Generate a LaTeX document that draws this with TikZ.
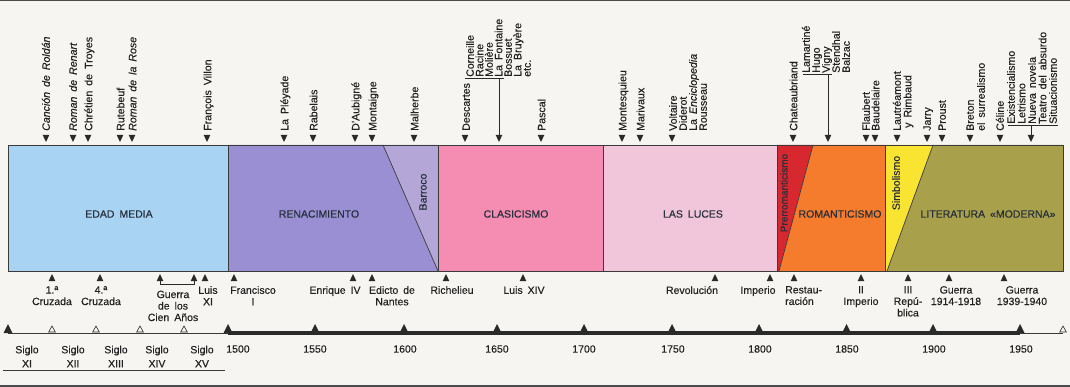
\documentclass[tikz,border=0pt]{standalone}
\usepackage{fontspec}
\setmainfont{Liberation Sans}[WordSpace=1.7, FakeBold=0.35]
\definecolor{bg}{HTML}{F6F5F1}
\definecolor{frame}{HTML}{4A4A4A}
\definecolor{txt}{HTML}{222222}
\definecolor{bandtxt}{HTML}{26303C}
\definecolor{linec}{HTML}{3A3A3A}
\definecolor{tric}{HTML}{2A2A2A}
\definecolor{cmedia}{HTML}{A8D3F3}
\definecolor{crenac}{HTML}{998FD2}
\definecolor{cbarroco}{HTML}{B4A7D8}
\definecolor{cclas}{HTML}{F48DB1}
\definecolor{cluces}{HTML}{F2C6DA}
\definecolor{cprerr}{HTML}{D72830}
\definecolor{croman}{HTML}{F47C2C}
\definecolor{csimb}{HTML}{F9E432}
\definecolor{cmod}{HTML}{A9A04B}
\tikzset{
  pics/dtri/.style={code={\fill[tric] (0,0) -- (-3.3,-7) -- (3.3,-7) -- cycle;}},
  pics/utri/.style={code={\fill[tric] (0,0) -- (-3.3,7) -- (3.3,7) -- cycle;}},
  pics/ytri/.style={code={\fill[tric] (0,0) -- (-4.5,9) -- (4.5,9) -- cycle;}},
  pics/htri/.style={code={\draw[tric, line width=0.6pt, fill=bg] (0,0) -- (-3.3,6) -- (3.3,6) -- cycle;}},
}
\begin{document}
\begin{tikzpicture}[x=1pt,y=-1pt,
  bandline/.style={draw=linec, line width=0.7pt},
  bandlab/.style={font=\fontsize{10.5}{12}\selectfont, text=bandtxt, inner sep=0pt},
  vlab/.style={rotate=90, font=\fontsize{10.5}{12}\selectfont, text=bandtxt, inner sep=0pt},
  toplab/.style={rotate=90, anchor=west, inner sep=0pt, text height=7.5pt, text depth=2pt, font=\fontsize{10.6}{10}\selectfont, text=txt},
  botlab/.style={anchor=north, inner sep=0pt, align=center, font=\fontsize{10.5}{11.5}\selectfont, text=txt},
  yearlab/.style={inner sep=0pt, font=\fontsize{10.5}{12}\selectfont, text=txt},
  siglolab/.style={anchor=north, inner sep=0pt, align=center, font=\fontsize{10.5}{14}\selectfont, text=txt},
  conn/.style={draw=tric, line width=0.6pt},
  thinl/.style={draw=linec, line width=0.8pt},
  thickl/.style={draw=tric, line width=3.5pt}
]
\useasboundingbox (0,0) rectangle (1070,387);
\fill[bg] (0,0) rectangle (1070,387);
\fill[frame] (0,0) rectangle (1070,1.5);
\fill[frame] (0,384.5) rectangle (1070,387);

% ---------- band ----------
\fill[cmedia] (8,145) rectangle (228,271);
\fill[crenac] (228,145) -- (383,145) -- (438,271) -- (228,271) -- cycle;
\fill[cbarroco] (383,145) -- (438,145) -- (438,271) -- cycle;
\fill[cclas] (438,145) rectangle (603,271);
\fill[cluces] (603,145) rectangle (777,271);
\fill[cprerr] (777,145) -- (813,145) -- (779,271) -- (777,271) -- cycle;
\fill[croman] (813,145) -- (885,145) -- (885,271) -- (779,271) -- cycle;
\fill[csimb] (885,145) -- (933,145) -- (887,271) -- (885,271) -- cycle;
\fill[cmod] (933,145) -- (1063,145) -- (1063,271) -- (887,271) -- cycle;
\draw[bandline] (8,145) rectangle (1063,271);
\draw[bandline] (228,145) -- (228,271);
\draw[bandline] (383,145) -- (438,271);
\draw[bandline] (438,145) -- (438,271);
\draw[bandline] (603,145) -- (603,271);
\draw[bandline] (777,145) -- (777,271);
\draw[bandline] (813,145) -- (779,271);
\draw[bandline] (885,145) -- (885,271);
\draw[bandline] (933,145) -- (887,271);

\node[bandlab] (edad) at (119,214) {EDAD MEDIA};
\node[bandlab] (renac) at (319,214) {RENACIMIENTO};
\node[vlab] (barroco) at (423,192) {Barroco};
\node[bandlab] (clas) at (516,214) {CLASICISMO};
\node[bandlab] (luces) at (693,214) {LAS LUCES};
\node[vlab, font=\fontsize{10}{12}\selectfont] (prerr) at (784,193) {Prerromanticismo};
\node[bandlab] (roman) at (840,214) {ROMANTICISMO};
\node[vlab] (simb) at (896,183) {Simbolismo};
\node[bandlab] (moderna) at (988,214) {LITERATURA «MODERNA»};

% ---------- top labels ----------
\foreach \x in {46,73,88,120,132,207,284,313,355,372,414,465,541,622,640,672,793,866,875,897,927,942,970,1000}
  \pic at (\x,142) {dtri};
\node[toplab] (t1) at (47,131) {\itshape Canción de Roldán};
\node[toplab] (t2) at (74,131) {\itshape Roman de Renart};
\node[toplab] (t3) at (89.5,131) {Chrétien de Troyes};
\node[toplab] (t4) at (121.5,131) {Rutebeuf};
\node[toplab] (t5) at (133.5,131) {\itshape Roman de la Rose};
\node[toplab] (t6) at (208.5,131) {François Villon};
\node[toplab] (t7) at (285.5,131) {La Pléyade};
\node[toplab] (t8) at (314.5,131) {Rabelais};
\node[toplab] (t9) at (356.5,131) {D’Aubigné};
\node[toplab] (t10) at (373.5,131) {Montaigne};
\node[toplab] (t11) at (415.5,131) {Malherbe};
\node[toplab] (t12) at (467,131) {Descartes};
% Corneille group
\node[toplab] (g1a) at (471,77) {Corneille};
\node[toplab] (g1b) at (480.5,77) {Racine};
\node[toplab] (g1c) at (490,77) {Molière};
\node[toplab] (g1d) at (499.5,77) {La Fontaine};
\node[toplab] (g1e) at (509,77) {Bossuet};
\node[toplab] (g1f) at (518.5,77) {La Bruyère};
\node[toplab] (g1g) at (528,77) {etc.};
\coordinate (g1l) at (465,78);
\coordinate (g1m) at (499,78);
\coordinate (g1t) at (499,136);
\draw[conn] (g1l) -- (504,78);
\draw[conn] (g1m) -- (g1t);
\pic at (499,142) {dtri};
\node[toplab] (t13) at (542.5,131) {Pascal};
\node[toplab] (t14) at (623.5,131) {Montesquieu};
\node[toplab] (t15) at (641.5,131) {Marivaux};
\node[toplab] (t16a) at (674,131) {Voltaire};
\node[toplab] (t16b) at (684,131) {Diderot};
\node[toplab] (t16c) at (694,131) {La \textit{Enciclopedia}};
\node[toplab] (t16d) at (704,131) {Rousseau};
\node[toplab] (t17) at (794.5,131) {Chateaubriand};
% Lamartine group
\node[toplab] (g2a) at (807,73) {Lamartiné};
\node[toplab] (g2b) at (817,73) {Hugo};
\node[toplab] (g2c) at (827,73) {Vigny};
\node[toplab] (g2d) at (837,73) {Stendhal};
\node[toplab] (g2e) at (847,73) {Balzac};
\coordinate (g2l) at (803,74);
\coordinate (g2m) at (828,74);
\coordinate (g2t) at (828,136);
\draw[conn] (g2l) -- (832,74);
\draw[conn] (g2m) -- (g2t);
\pic at (828,142) {dtri};
\node[toplab] (t18) at (867,131) {Flaubert};
\node[toplab] (t19) at (876.5,131) {Baudelaire};
\node[toplab] (t20a) at (898,131) {Lautréamont};
\node[toplab] (t20b) at (908.5,128) {y Rimbaud};
\node[toplab] (t21) at (928,131) {Jarry};
\node[toplab] (t22) at (943,131) {Proust};
\node[toplab] (t23a) at (971,131) {Breton};
\node[toplab] (t23b) at (982,131) {el surrealismo};
\node[toplab] (t24) at (1001,131) {Céline};
% contemporary group
\node[toplab] (g3a) at (1012,124) {Existencialismo};
\node[toplab] (g3b) at (1022.5,124) {Letrismo};
\node[toplab] (g3c) at (1033,124) {Nueva novela};
\node[toplab] (g3d) at (1043.5,124) {Teatro del absurdo};
\node[toplab] (g3e) at (1054,124) {Situacionismo};
\coordinate (g3l) at (1008,125.5);
\coordinate (g3m) at (1031,125.5);
\coordinate (g3t) at (1031,136);
\draw[conn] (g3l) -- (1058,125.5);
\draw[conn] (g3m) -- (g3t);
\pic at (1031,142) {dtri};

% ---------- bottom event labels ----------
\foreach \x in {52,100,160,194,205,234,353,372,446,523,715,770,794,861,908,949,1004}
  \pic at (\x,274) {utri};
\coordinate (cienA) at (160,280.5);
\coordinate (cienB) at (194,280.5);
\draw[conn] (cienA) -- (160,284) -- (194,284) -- (cienB);
\node[botlab] (b1) at (52,286) {1.ª\\Cruzada};
\node[botlab] (b2) at (101,286) {4.ª\\Cruzada};
\node[botlab] (b3) at (173,290.5) {Guerra\\de los\\Cien Años};
\node[botlab] (b4) at (208,286) {Luis\\XI};
\node[botlab] (b5) at (253,286) {Francisco\\I};
\node[botlab] (b6) at (335,286) {Enrique IV};
\node[botlab] (b7) at (392,286) {Edicto de\\Nantes};
\node[botlab] (b8) at (452,286) {Richelieu};
\node[botlab] (b9) at (524,286) {Luis XIV};
\node[botlab] (b10) at (692,286) {Revolución};
\node[botlab] (b11) at (758,286) {Imperio};
\node[botlab, anchor=north west, align=left] (b12) at (785,286) {Restau-\\ración};
\node[botlab] (b13) at (861,286) {II\\Imperio};
\node[botlab] (b14) at (908,286) {III\\Repú-\\blica};
\node[botlab] (b15) at (956,286) {Guerra\\1914-1918};
\node[botlab] (b16) at (1022,286) {Guerra\\1939-1940};

% ---------- time axis ----------
\coordinate (axL) at (8,333.5);
\coordinate (ax1500) at (228,333);
\coordinate (ax1950) at (1020,333);
\coordinate (axR) at (1063,333.5);
\draw[thinl] (axL) -- (228,333.5);
\draw[thickl] (ax1500) -- (ax1950);
\draw[thinl] (1020,333.5) -- (axR);
\foreach \x in {8,228,315,404,497,584,672,759,846.5,933,1020}
  \pic at (\x,324) {ytri};
\foreach \x in {52,96,140,184,1063}
  \pic at (\x,326) {htri};
\node[yearlab] (y1500) at (238,349) {1500};
\node[yearlab] (y1550) at (315,349) {1550};
\node[yearlab] (y1600) at (405,349) {1600};
\node[yearlab] (y1650) at (497,349) {1650};
\node[yearlab] (y1700) at (584,349) {1700};
\node[yearlab] (y1750) at (673,349) {1750};
\node[yearlab] (y1800) at (760,349) {1800};
\node[yearlab] (y1850) at (847,349) {1850};
\node[yearlab] (y1900) at (934,349) {1900};
\node[yearlab] (y1950) at (1021,349) {1950};
\node[siglolab] (s11) at (27,345.5) {Siglo\\XI};
\node[siglolab] (s12) at (73,345.5) {Siglo\\XII};
\node[siglolab] (s13) at (116,345.5) {Siglo\\XIII};
\node[siglolab] (s14) at (157,345.5) {Siglo\\XIV};
\node[siglolab] (s15) at (202,345.5) {Siglo\\XV};
\draw[thinl, line width=0.6pt] (3,370) -- (225,370);
\end{tikzpicture}
\end{document}
